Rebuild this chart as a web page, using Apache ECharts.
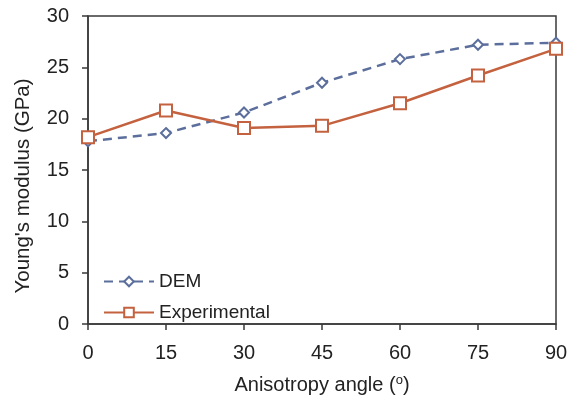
<!DOCTYPE html>
<html><head><meta charset="utf-8">
<script src="https://cdn.jsdelivr.net/npm/echarts@6/dist/echarts.min.js"></script>
<style>html,body{margin:0;padding:0;background:#fff}#c{width:576px;height:403px}</style>
</head><body><div id="c"></div>
<script>
const angles = [0, 15, 30, 45, 60, 75, 90];
const demValues = [17.8, 18.6, 20.6, 23.5, 25.8, 27.2, 27.4];
const expValues = [18.2, 20.8, 19.1, 19.3, 21.5, 24.2, 26.8];
const xTicks = [0, 15, 30, 45, 60, 75, 90];
const yTicks = [0, 5, 10, 15, 20, 25, 30];

const font = 'Liberation Sans, Arial, sans-serif';
const axisCol = '#3a3a3a';
const chart = echarts.init(document.getElementById('c'));
chart.setOption({
  animation: false,
  backgroundColor: '#fff',
  grid: { left: 88, right: 20, top: 16, bottom: 79, show: true, borderColor: axisCol, borderWidth: 1.5 },
  xAxis: {
    type: 'value', min: xTicks[0], max: xTicks[xTicks.length-1], interval: 15,
    name: 'Anisotropy angle ({sup|o})', nameLocation: 'middle', nameGap: 50,
    nameTextStyle: { fontFamily: font, fontSize: 20, color: '#222',
      rich: { sup: { fontSize: 13, verticalAlign: 'top', padding: [0,0,9,0], fontFamily: font, color: '#222' } } },
    axisLine: { show: true, onZero: false, lineStyle: { color: axisCol, width: 1.5 } },
    axisTick: { show: true, inside: false, length: 6, lineStyle: { color: axisCol, width: 1.5 } },
    axisLabel: { fontFamily: font, fontSize: 20, color: '#222', margin: 19 },
    splitLine: { show: false }
  },
  yAxis: {
    type: 'value', min: yTicks[0], max: yTicks[yTicks.length-1], interval: 5,
    name: "Young's modulus (GPa)", nameLocation: 'middle', nameGap: 54, nameRotate: 90,
    nameTextStyle: { fontFamily: font, fontSize: 20.5, color: '#222', padding: [0, 32, 0, 0] },
    axisLine: { show: true, lineStyle: { color: axisCol, width: 1.5 } },
    axisTick: { show: true, inside: false, length: 6, lineStyle: { color: axisCol, width: 1.5 } },
    axisLabel: { fontFamily: font, fontSize: 20, color: '#222', margin: 19 },
    splitLine: { show: false }
  },
  legend: {
    orient: 'vertical', left: 98, top: 267, itemGap: 12, itemWidth: 50, itemHeight: 12,
    textStyle: { fontFamily: font, fontSize: 19, color: '#222' },
    data: ['DEM', 'Experimental']
  },
  series: [
    { name: 'DEM', type: 'line', data: angles.map((a,i)=>[a, demValues[i]]),
      symbol: 'emptyDiamond', symbolSize: 10,
      lineStyle: { color: '#5b6e9c', width: 2.5, type: [9, 6] },
      itemStyle: { color: '#5b6e9c', borderWidth: 1.5 } },
    { name: 'Experimental', type: 'line', data: angles.map((a,i)=>[a, expValues[i]]),
      symbol: 'emptyRect', symbolSize: 12,
      lineStyle: { color: '#c4623f', width: 2.5 },
      itemStyle: { color: '#c4623f', borderWidth: 1.5 } }
  ]
});
</script></body></html>
